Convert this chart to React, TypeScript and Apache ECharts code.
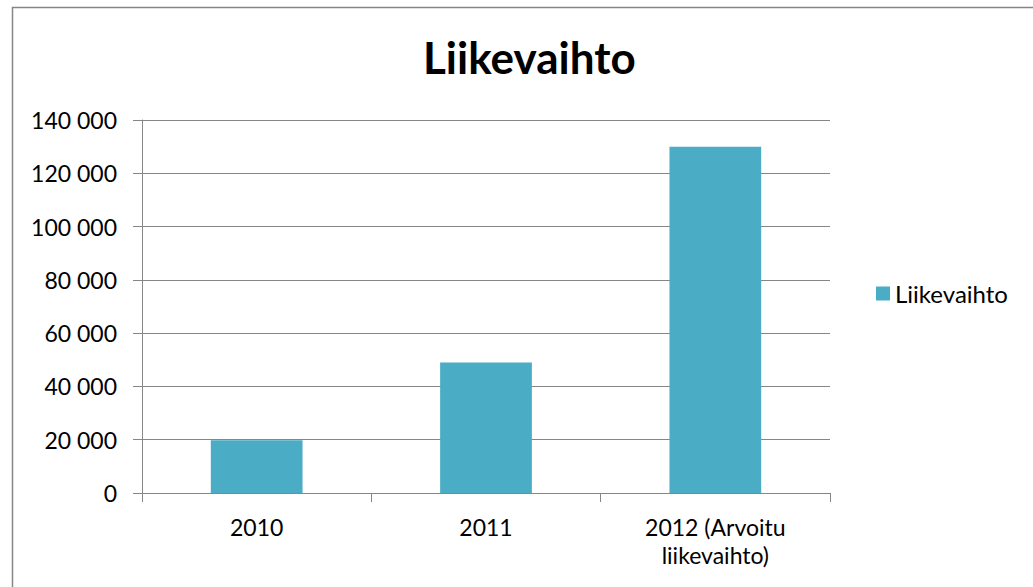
import React, { useEffect, useRef } from "react";
import * as echarts from "echarts";

const categories = ["2010", "2011", "2012 (Arvoitu\nliikevaihto)"];
const values = [19800, 49000, 130000];
const seriesName = "Liikevaihto";
const titleText = "Liikevaihto";

const FONT = "Lato, 'Noto Sans', sans-serif";

export default function App() {
  const ref = useRef<HTMLDivElement>(null);
  useEffect(() => {
    if (!ref.current) return;
    const chart = echarts.init(ref.current, undefined, { renderer: "svg" });
    chart.setOption({
      animation: false,
      backgroundColor: "#ffffff",
      title: {
        text: titleText,
        left: 418,
        top: 30,
        textStyle: { fontFamily: FONT, fontSize: 44, fontWeight: "bold", color: "#000" },
      },
      legend: {
        data: [seriesName],
        left: 871,
        top: "middle",
        icon: "rect",
        itemWidth: 14,
        itemHeight: 14,
        itemGap: 6,
        textStyle: { fontFamily: FONT, fontSize: 24, color: "#000" },
      },
      grid: { left: 142, right: 203, top: 120, bottom: 94, containLabel: false },
      xAxis: {
        type: "category",
        data: categories,
        axisLine: { lineStyle: { color: "#868686", width: 1 } },
        axisTick: { show: true, length: 9, lineStyle: { color: "#868686" } },
        axisLabel: { fontFamily: FONT, fontSize: 23, color: "#000", margin: 20, lineHeight: 28 },
      },
      yAxis: {
        type: "value",
        min: 0,
        max: 140000,
        interval: 20000,
        axisLine: { show: true, lineStyle: { color: "#868686", width: 1 } },
        axisTick: { show: true, length: 9, lineStyle: { color: "#868686" } },
        splitLine: { lineStyle: { color: "#868686", width: 1 } },
        axisLabel: {
          fontFamily: FONT,
          fontSize: 23,
          color: "#000",
          margin: 25,
          formatter: (v: number) => String(v).replace(/\B(?=(\d{3})+(?!\d))/g, " "),
        },
      },
      series: [
        {
          name: seriesName,
          type: "bar",
          data: values,
          barWidth: "40%",
          itemStyle: { color: "#4BACC6" },
        },
      ],
      graphic: [
        {
          type: "rect",
          shape: { x: 12.5, y: 7.5, width: 1100, height: 700 },
          style: { fill: "none", stroke: "#868686", lineWidth: 1.5 },
          silent: true,
        },
      ],
    });
    return () => chart.dispose();
  }, []);
  return <div ref={ref} style={{ position: "fixed", left: 0, top: 0, width: 1033, height: 587 }} />;
}
